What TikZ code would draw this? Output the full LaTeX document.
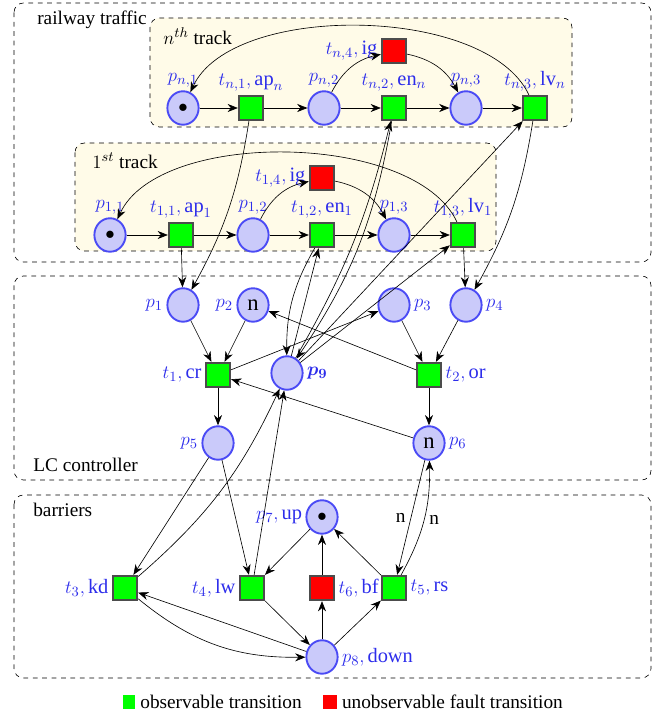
\documentclass[tikz,border=0pt]{standalone}
\usepackage{fontspec}
\setmainfont{Liberation Serif}
\usepackage{amsmath}
\usepackage{amssymb}
\usetikzlibrary{arrows.meta,shapes.geometric,positioning}
\definecolor{placeblue}{RGB}{75,75,245}
\definecolor{placefill}{RGB}{202,202,250}
\definecolor{lblblue}{RGB}{45,45,235}
\definecolor{trackfill}{RGB}{255,251,232}
\tikzset{
    place/.style = {draw=placeblue, ellipse, line width=1.2pt, fill=placefill,
        minimum width=0.7cm,
        minimum height=0.75cm, inner sep=0pt},
    trans/.style = {draw=black!70, rectangle, line width=1.1pt, fill=green,
        minimum size=0.55cm, inner sep=0pt},
    fault/.style = {trans, fill=red},
    lbl/.style = {text=lblblue, inner sep=2pt, font=\fontsize{13}{15}\selectfont},
    region/.style = {draw, dashed, rounded corners=6pt},
    track/.style = {region, fill=trackfill},
    caption/.style = {anchor=west, inner sep=0pt}
}

\begin{document}
\begin{tikzpicture}[x=0.0224cm, y=0.0224cm, font=\fontsize{12.3}{14}\selectfont, >={Stealth[length=2.3mm,width=1.8mm]}]
              \useasboundingbox (0,0) rectangle (656,713);
              \draw[region] (14,710) rectangle (651,451);
              \draw[track] (150,695) rectangle (572,586);
              \draw[track] (75,570) rectangle (496,462);
              \draw[region] (14,437) rectangle (651,233);
              \draw[region] (14,218) rectangle (651,35);
                \node[caption] (railcap) at (37,693) {railway traffic};
                \node[caption] (ncap) at (163,677) {$n^{th}$ track};
                \node[caption] (onecap) at (92,552) {$1^{st}$ track};
                \node[caption] (lccap) at (33,248) {LC controller};
                \node[caption] (barcap) at (33,203) {barriers};
                \node[place, label={[lbl]above:$p_{n,1}$}] (pn1) at (183,605) {$\bullet$};
                \node[trans, label={[lbl]above:{$t_{n,1},\mathrm{ap}_n$}}] (tn1) at (251,605) {};
                \node[place, label={[lbl]above:$p_{n,2}$}] (pn2) at (324,605) {};
                \node[trans, label={[lbl]above:{$t_{n,2},\mathrm{en}_n$}}] (tn2) at (394,605) {};
                \node[place, label={[lbl]above:$p_{n,3}$}] (pn3) at (466,605) {};
                \node[trans, label={[lbl]above:{$t_{n,3},\mathrm{lv}_n$}}] (tn3) at (535,605) {};
                \node[fault, label={[lbl]left:{$t_{n,4},\mathrm{ig}$}}] (tn4) at (394,662) {};
                \node[place, label={[lbl]above:$p_{1,1}$}] (p11) at (110,478) {$\bullet$};
                \node[trans, label={[lbl]above:{$t_{1,1},\mathrm{ap}_1$}}] (t11) at (181,478) {};
                \node[place, label={[lbl]above:$p_{1,2}$}] (p12) at (253,478) {};
                \node[trans, label={[lbl]above:{$t_{1,2},\mathrm{en}_1$}}] (t12) at (322,478) {};
                \node[place, label={[lbl]above:$p_{1,3}$}] (p13) at (394,478) {};
                \node[trans, label={[lbl]above:{$t_{1,3},\mathrm{lv}_1$}}] (t13) at (463,478) {};
                \node[fault, label={[lbl]left:{$t_{1,4},\mathrm{ig}$}}] (t14) at (322,535) {};
                \node[place, label={[lbl]left:$p_1$}] (p1) at (183,408) {};
                \node[place, label={[lbl]left:$p_2$}] (p2) at (253,408) {\Large n};
                \node[place, label={[lbl]right:$p_3$}] (p3) at (394,408) {};
                \node[place, label={[lbl]right:$p_4$}] (p4) at (466,408) {};
                \node[trans, label={[lbl]left:{$t_1,\mathrm{cr}$}}] (t1) at (218,338) {};
                \node[place, label={[lbl]right:$\boldsymbol{p_9}$}] (p9) at (287,340) {};
                \node[trans, label={[lbl]right:{$t_2,\mathrm{or}$}}] (t2) at (429,338) {};
                \node[place, label={[lbl]left:$p_5$}] (p5) at (218,270) {};
                \node[place, label={[lbl]right:$p_6$}] (p6) at (429,270) {\Large n};
                \node[place, label={[lbl]left:{$p_7,\mathrm{up}$}}] (p7) at (322,196) {$\bullet$};
                \node[trans, label={[lbl]left:{$t_3,\mathrm{kd}$}}] (t3) at (125,125) {};
                \node[trans, label={[lbl]left:{$t_4,\mathrm{lw}$}}] (t4) at (252,125) {};
                \node[fault, label={[lbl]right:{$t_6,\mathrm{bf}$}}] (t6) at (322,125) {};
                \node[trans, label={[lbl]right:{$t_5,\mathrm{rs}$}}] (t5) at (394,125) {};
                \node[place, label={[lbl]right:{$p_8,\mathrm{down}$}}] (p8) at (322,56) {};
                \node[fill=green, minimum width=0.27cm, minimum height=0.32cm, inner sep=0pt] (legobs) at (129,11) {};
                \node[right=3pt of legobs, inner sep=0pt] (legobstext) {observable transition};
                \node[fill=red, minimum width=0.3cm, minimum height=0.32cm, inner sep=0pt] (legflt) at (330,11) {};
                \node[right=3pt of legflt, inner sep=0pt] (legflttext) {unobservable fault transition};
                \draw [->] (pn1) -- (tn1);
                \draw [->] (tn1) -- (pn2);
                \draw [->] (pn2) -- (tn2);
                \draw [->] (tn2) -- (pn3);
                \draw [->] (pn3) -- (tn3);
                \draw [->] (pn2) to[bend left=25] (tn4);
                \draw [->] (tn4) to[bend left=25] (pn3);
                \draw [->] (tn3) to[out=115,in=65,looseness=0.75] (pn1);
                \draw [->] (p11) -- (t11);
                \draw [->] (t11) -- (p12);
                \draw [->] (p12) -- (t12);
                \draw [->] (t12) -- (p13);
                \draw [->] (p13) -- (t13);
                \draw [->] (p12) to[bend left=25] (t14);
                \draw [->] (t14) to[bend left=25] (p13);
                \draw [->] (t13) to[out=115,in=65,looseness=0.75] (p11);
                \draw [->] (t11) -- (p1);
                \draw [->] (tn1) to[bend left=10] (p1);
                \draw [->] (t13) -- (p4);
                \draw [->] (tn3) to[bend left=10] (p4);
                \draw [->] (p1) -- (t1);
                \draw [->] (p2) -- (t1);
                \draw [->] (p3) -- (t2);
                \draw [->] (p4) -- (t2);
                \draw [->] (t1) -- (p5);
                \draw [->] (t2) -- (p6);
                \draw [->] (t1) -- (p3);
                \draw [->] (t2) -- (p2);
                \draw [->] (p6) -- (t1);
                \draw [->] (t12) to[bend right=15] (p9);
                \draw [->] (p9) -- (t12);
                \draw [->] (p9) to[bend right=8] (tn2);
                \draw [->] (tn2) to[bend left=12] (p9);
                \draw [->] (p9) -- (t13);
                \draw [->] (p9) -- (tn3);
                \draw [->] (t3) to[bend right=12] (p9);
                \draw [->] (t4) -- (p9);
                \draw [->] (p5) -- (t3);
                \draw [->] (p5) -- (t4);
                \draw [->] (p7) -- (t4);
                \draw [->] (t6) -- (p7);
                \draw [->] (t5) -- (p7);
                \draw [->] (p8) -- (t6);
                \draw [->] (p8) -- (t5);
                \draw [->] (t4) -- (p8);
                \draw [->] (p8) -- (t3);
                \draw [->] (t3) to[bend right=20] (p8);
                \draw [->] (p6) -- node[left] (nleft) {n} (t5);
                \draw [->] (t5) to[bend right=15] node[right] (nright) {n} (p6);
            \end{tikzpicture}
\end{document}
